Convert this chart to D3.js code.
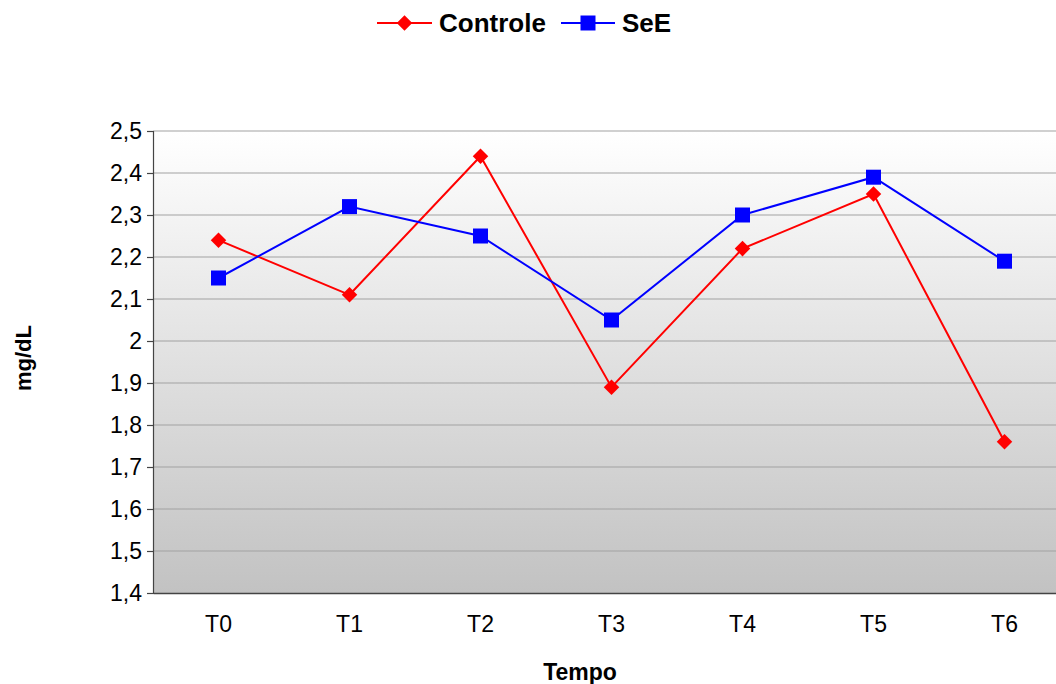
<!DOCTYPE html>
<html>
<head>
<meta charset="utf-8">
<script src="https://cdn.jsdelivr.net/npm/d3@7"></script>
<style>
  html, body { margin: 0; padding: 0; background: #fff; }
  svg { display: block; font-family: Arial, "Liberation Sans", sans-serif; }
</style>
</head>
<body>
<svg id="chart" width="1056" height="684"></svg>
<script>
// Time points and measured values (mg/dL)
const categories = ["T0", "T1", "T2", "T3", "T4", "T5", "T6"];
const controle = [2.24, 2.11, 2.44, 1.89, 2.22, 2.35, 1.76];
const seE = [2.15, 2.32, 2.25, 2.05, 2.30, 2.39, 2.19];
const yTicks = [1.4, 1.5, 1.6, 1.7, 1.8, 1.9, 2.0, 2.1, 2.2, 2.3, 2.4, 2.5];

// Diamond marker = square turned by 45 degrees
const series = [
  { name: "Controle", values: controle, color: "#ff0000", size: 121, rotate: 45 },
  { name: "SeE", values: seE, color: "#0000ff", size: 225, rotate: 0 }
];

const svg = d3.select("#chart");
const plot = { left: 153, top: 131, right: 1070, bottom: 593 };

const x = d3.scaleBand().domain(categories).range([plot.left, plot.right]);
const y = d3.scaleLinear().domain([1.4, 2.5]).range([plot.bottom, plot.top]);
const fmt = v => d3.format(".1~f")(v).replace(".", ",");
const marker = s => d3.symbol().type(d3.symbolSquare).size(s.size)();

// Background gradient of plot area
const defs = svg.append("defs");
const grad = defs.append("linearGradient").attr("id", "bg")
  .attr("x1", 0).attr("y1", 0).attr("x2", 0).attr("y2", 1);
grad.append("stop").attr("offset", "0%").attr("stop-color", "#ffffff");
grad.append("stop").attr("offset", "100%").attr("stop-color", "#c2c2c2");

svg.append("rect")
  .attr("x", plot.left).attr("y", plot.top)
  .attr("width", plot.right - plot.left).attr("height", plot.bottom - plot.top)
  .attr("fill", "url(#bg)");

// Horizontal gridlines
svg.append("g").selectAll("line")
  .data(yTicks.filter(t => t > 1.4))
  .join("line")
  .attr("x1", plot.left).attr("x2", plot.right)
  .attr("y1", d => y(d)).attr("y2", d => y(d))
  .attr("stroke", "#a2a2a2").attr("stroke-width", 1.2);

// Y axis
const yAxis = svg.append("g")
  .attr("transform", `translate(${plot.left},0)`)
  .call(d3.axisLeft(y).tickValues(yTicks).tickFormat(fmt).tickSize(6).tickPadding(5));
yAxis.select(".domain").attr("stroke", "#444").attr("stroke-width", 1.2);
yAxis.selectAll(".tick line").attr("stroke", "#444").attr("stroke-width", 1.2);
yAxis.selectAll(".tick text")
  .attr("font-size", 23).attr("fill", "#000")
  .attr("font-family", "Arial, 'Liberation Sans', sans-serif");

// X axis
const xAxis = svg.append("g")
  .attr("transform", `translate(0,${plot.bottom})`)
  .call(d3.axisBottom(x).tickSize(0).tickPadding(23));
xAxis.select(".domain").attr("stroke", "#444").attr("stroke-width", 1.4);
xAxis.selectAll(".tick text")
  .attr("font-size", 23).attr("fill", "#000")
  .attr("font-family", "Arial, 'Liberation Sans', sans-serif");

// Series lines and markers
const line = d3.line()
  .x((d, i) => x(categories[i]) + x.bandwidth() / 2)
  .y(d => y(d));

series.forEach(s => {
  svg.append("path")
    .datum(s.values)
    .attr("d", line)
    .attr("fill", "none")
    .attr("stroke", s.color)
    .attr("stroke-width", 2);
  svg.append("g").selectAll("path")
    .data(s.values)
    .join("path")
    .attr("transform", (d, i) =>
      `translate(${x(categories[i]) + x.bandwidth() / 2},${y(d)}) rotate(${s.rotate})`)
    .attr("d", marker(s))
    .attr("fill", s.color);
});

// Axis titles
svg.append("text")
  .attr("transform", "translate(31,358) rotate(-90)")
  .attr("text-anchor", "middle")
  .attr("font-size", 22).attr("font-weight", "bold")
  .text("mg/dL");
svg.append("text")
  .attr("x", 580).attr("y", 680)
  .attr("text-anchor", "middle")
  .attr("font-size", 23).attr("font-weight", "bold")
  .text("Tempo");

// Legend
const legendItems = [
  { s: series[0], x0: 377, x1: 432, tx: 439 },
  { s: series[1], x0: 561, x1: 615, tx: 622 }
];
const lg = svg.append("g");
legendItems.forEach(it => {
  lg.append("line")
    .attr("x1", it.x0).attr("x2", it.x1).attr("y1", 23).attr("y2", 23)
    .attr("stroke", it.s.color).attr("stroke-width", 2);
  lg.append("path")
    .attr("transform", `translate(${(it.x0 + it.x1) / 2},23) rotate(${it.s.rotate})`)
    .attr("d", marker(it.s))
    .attr("fill", it.s.color);
  lg.append("text")
    .attr("x", it.tx).attr("y", 32)
    .attr("font-size", 26).attr("font-weight", "bold")
    .text(it.s.name);
});
</script>
</body>
</html>
